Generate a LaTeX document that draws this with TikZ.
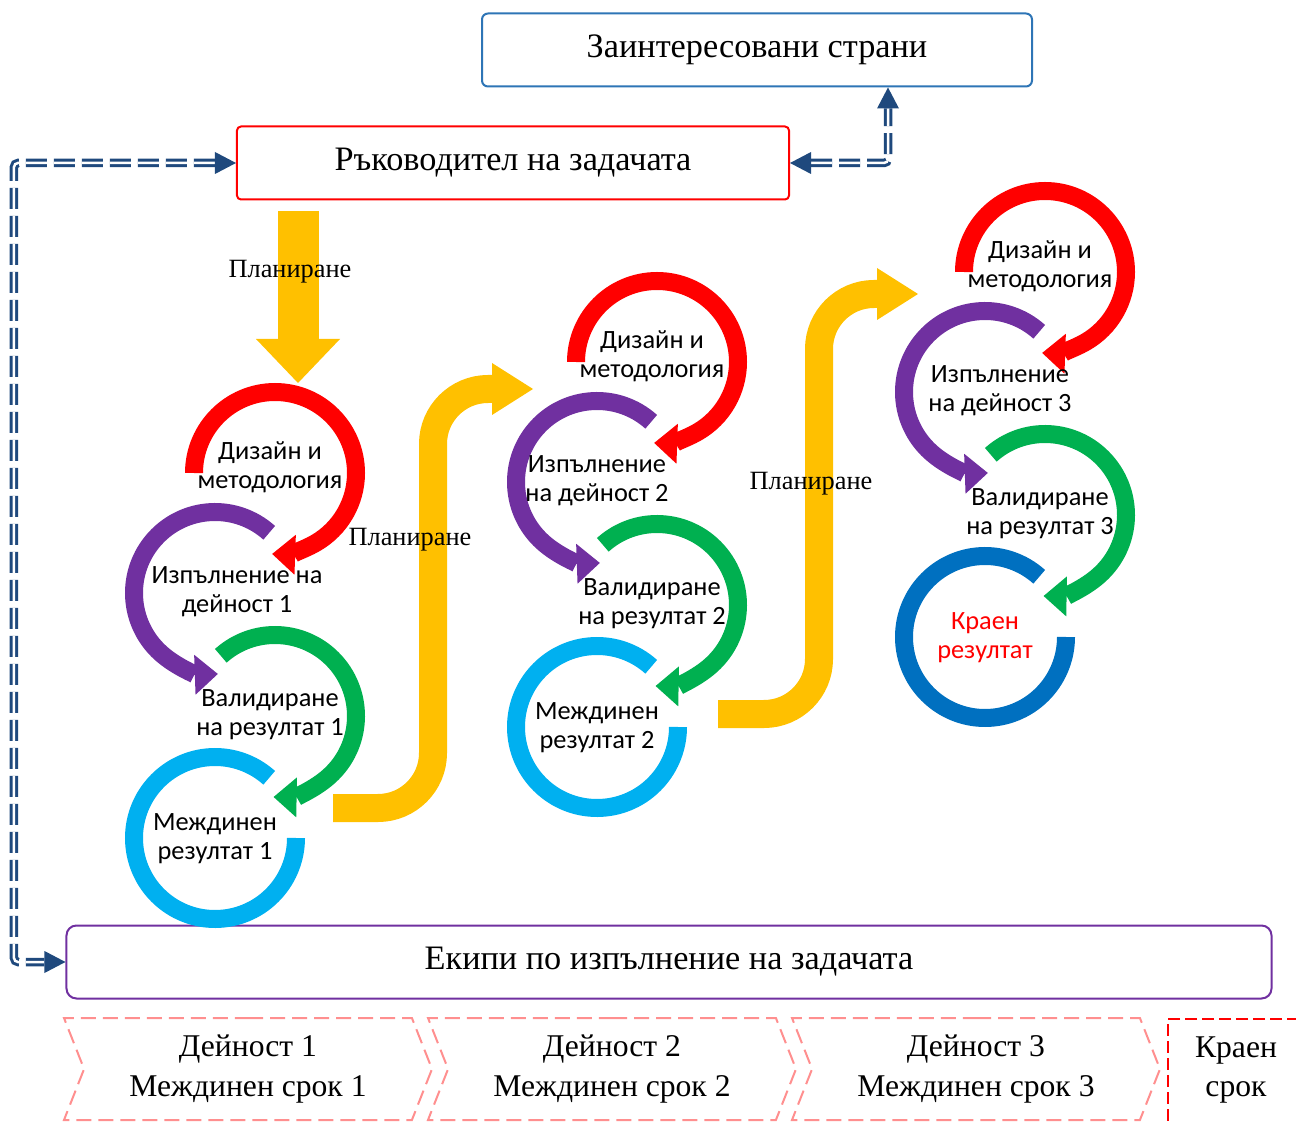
\documentclass[tikz,border=0pt]{standalone}
\usepackage{fontspec}
\setmainfont{Liberation Serif}
\newfontfamily\cyclefont{Carlito}
\usepackage{tikz}
\usetikzlibrary{
  arrows.meta,
  shapes.symbols,
  positioning,
  calc
}
\definecolor{tkRed}{HTML}{FF0000}
\definecolor{tkPurple}{HTML}{7030A0}
\definecolor{tkGreen}{HTML}{00B050}
\definecolor{tkCyan}{HTML}{00B0F0}
\definecolor{tkBlue}{HTML}{0070C0}
\definecolor{tkGold}{HTML}{FFC000}
\definecolor{tkFrame}{HTML}{2E75B6}
\definecolor{tkLink}{HTML}{1F497D}
\definecolor{tkStage}{HTML}{FF8F8F}
\tikzset{
  tkbox/.style={
    draw, rounded corners=1.2mm, line width=0.4mm, minimum height=14.6mm,
    font=\fontsize{19.5}{23}\selectfont, align=center, fill=white
  },
  ring/.style={draw=#1, line width=3.6mm},
  ringarrow/.style={ring=#1, -{Triangle[length=4.6mm, width=8mm, line width=0pt]}},
  ringtext/.style={font=\cyclefont\fontsize{15}{16.5}\selectfont, align=center, inner sep=0pt},
  goldarrow/.style={draw=tkGold, line width=8.2mm, -{Triangle[length=8.8mm, width=16.8mm, line width=0pt]}},
  plan/.style={draw=tkGold, line width=5.6mm, rounded corners=11mm,
    -{Triangle[length=8.2mm, width=10.4mm, line width=0pt]}},
  plantext/.style={font=\fontsize{15}{18}\selectfont, inner sep=0pt},
  link/.style={draw=tkLink, double, double distance=0.5mm, line width=0.6mm,
    dash pattern=on 4.2mm off 1.4mm, rounded corners=0.8mm,
    {Triangle[length=4.2mm, width=4.4mm, line width=0pt]}-{Triangle[length=4.2mm, width=4.4mm, line width=0pt]}},
  stage/.style={signal, signal from=west, signal to=east, signal pointer angle=137,
    draw=tkStage, line width=0.4mm, dash pattern=on 3mm off 1.4mm,
    minimum width=73.6mm, minimum height=20.4mm, inner sep=0pt,
    font=\fontsize{18}{22.7}\selectfont, align=center},
  deadline/.style={draw=tkRed, line width=0.4mm, dash pattern=on 2.4mm off 1mm,
    minimum width=27.6mm, minimum height=22mm, anchor=north west}
}

\begin{document}
\begin{tikzpicture}[x=0.2mm, y=-0.2mm]
  \useasboundingbox (0,0) rectangle (1296,1122);
  % boxes
  \node[tkbox, draw=tkFrame, minimum width=110mm] (stake) at (757,50) {Заинтересовани страни};
  \node[tkbox, draw=tkRed, rounded corners=0.8mm, minimum width=110.4mm] (lead) at (513,163) {Ръководител на задачата};
  \node[tkbox, draw=tkPurple, rounded corners=2mm, minimum width=241mm] (team) at (669,962) {Екипи по изпълнение на задачата};

  % links
  \draw[link] (lead.east) -| ([xshift=26.2mm]stake.south);
  \draw[link] (lead.west) -- ++(-222,0) |- (team.west);

  % planning arrows
  \coordinate (p0) at (298,211);
  \coordinate (p1) at (298,383);
  \draw[goldarrow] (p0) -- (p1);
  \node[plantext] (plan1) at (290,272) {Планиране};
  \coordinate (q0) at (333,808);
  \coordinate (q1) at (533,389);
  \draw[plan] (q0) -- (433,808) -- (433,389) -- (q1);
  \node[plantext] (plan2) at (410,540) {Планиране};
  \coordinate (r0) at (718,714);
  \coordinate (r1) at (918,294);
  \draw[plan] (r0) -- (819,714) -- (819,294) -- (r1);
  \node[plantext] (plan3) at (811,484) {Планиране};

  % cycles
  \foreach \cx/\cy/\idx/\ex/\extext/\rescol/\restext/\txtcol in {
      275/473/1/-38/{Изпълнение на\\дейност 1}/tkCyan/{Междинен\\резултат 1}/black,
      657/362/2/-60/{Изпълнение\\на дейност 2}/tkCyan/{Междинен\\резултат 2}/black,
      1045/272/3/-45/{Изпълнение\\на дейност 3}/tkBlue/{Краен\\резултат}/tkRed} {
    \begin{scope}[shift={(\cx,\cy)}]
      \draw[ringarrow=tkRed] (-81,0) arc[start angle=-180, end angle=92, radius=81];
      \draw[ringarrow=tkPurple] ([shift={(-48:81)}]-60,120) arc[start angle=-48, end angle=-272, radius=81];
      \draw[ringarrow=tkGreen] ([shift={(-132:81)}]0,243) arc[start angle=-132, end angle=91, radius=81];
      \draw[ring=\rescol] ([shift={(-48:81)}]-60,365) arc[start angle=-48, end angle=-360, radius=81];
      \node[ringtext] (design\idx) at (-5,-6) {Дизайн и\\методология};
      \node[ringtext] (exec\idx) at (\ex,119) {\extext};
      \node[ringtext] (valid\idx) at (-5,242) {Валидиране\\на резултат \idx};
      \node[ringtext, text=\txtcol] (result\idx) at (-60,366) {\restext};
    \end{scope}
  }

  % stages
  \node[stage] (stage1) at (248,1069) {Дейност 1\\Междинен срок 1};
  \node[stage] (stage2) at (612,1069) {Дейност 2\\Междинен срок 2};
  \node[stage] (stage3) at (976,1069) {Дейност 3\\Междинен срок 3};
  \node[deadline] (deadline) at (1167,1018) {};
  \node[font=\fontsize{18}{22.7}\selectfont, align=center] (deadtext) at (1236,1070) {Краен\\срок};
\end{tikzpicture}
\end{document}
